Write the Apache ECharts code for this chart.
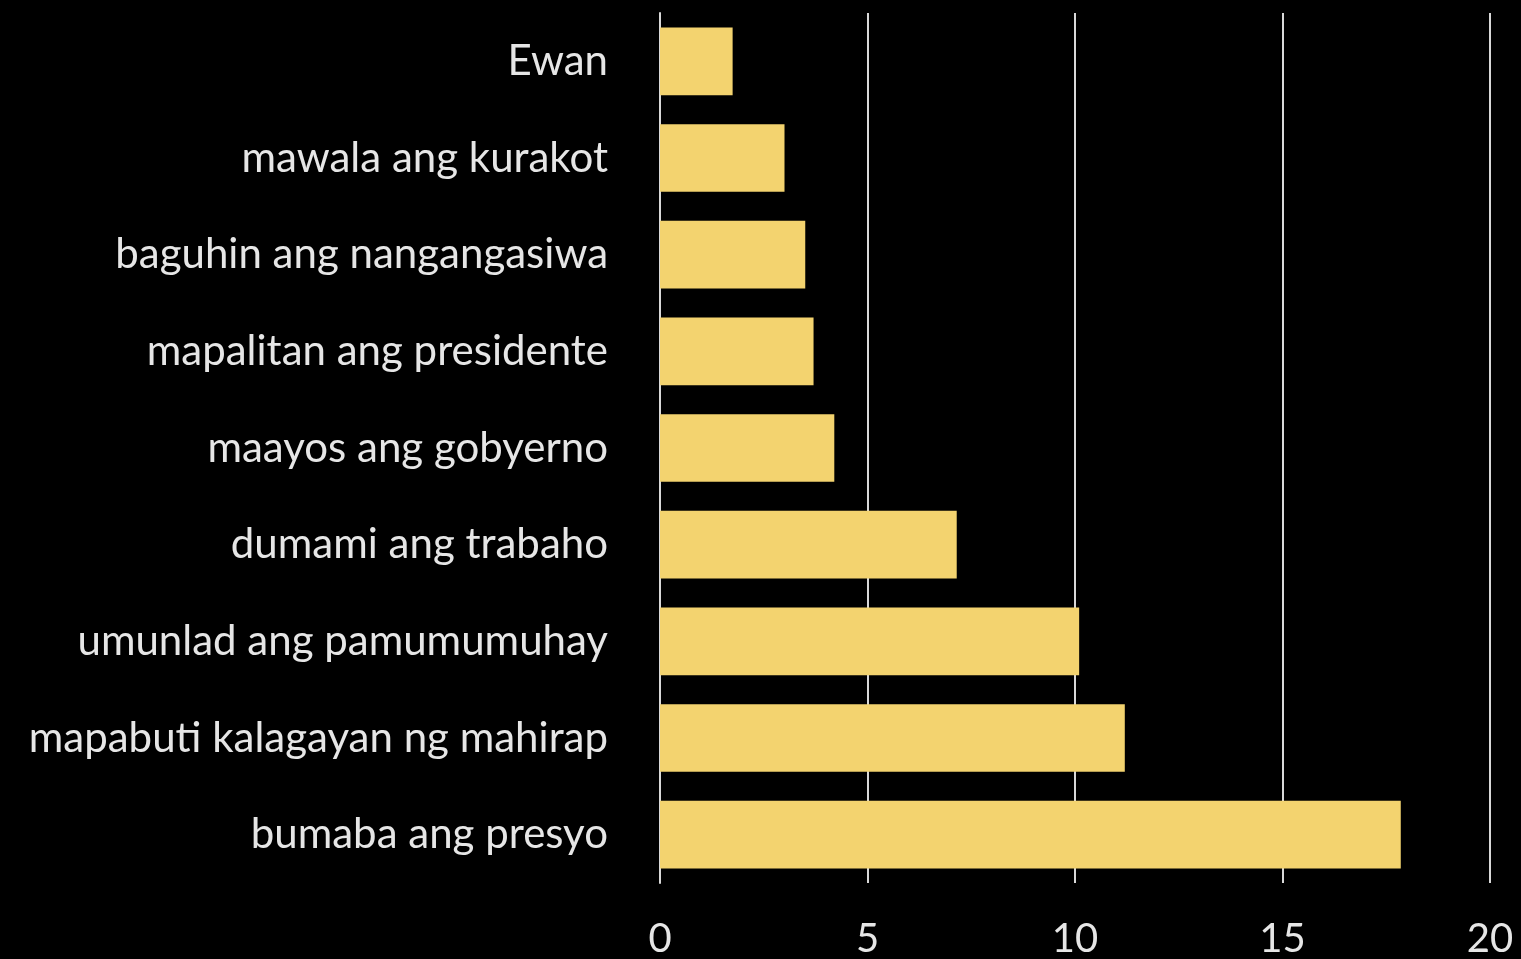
<!DOCTYPE html>
<html>
<head>
<meta charset="utf-8">
<script src="https://cdn.jsdelivr.net/npm/echarts@6/dist/echarts.min.js"></script>
<style>
  html, body { margin: 0; padding: 0; background: #000; }
  #chart { width: 1521px; height: 959px; }
</style>
</head>
<body>
<div id="chart"></div>
<script>
  const categories = [
    "bumaba ang presyo",
    "mapabuti kalagayan ng mahirap",
    "umunlad ang pamumumuhay",
    "dumami ang trabaho",
    "maayos ang gobyerno",
    "mapalitan ang presidente",
    "baguhin ang nangangasiwa",
    "mawala ang kurakot",
    "Ewan",
  ];
  const values = [17.85, 11.2, 10.1, 7.15, 4.2, 3.7, 3.5, 3.0, 1.75];
  const xTicks = { min: 0, max: 20, interval: 5 };

  const textColor = "#e6e6e6";
  const barColor = "#f3d36f";
  const fontFamily = "Lato, 'Open Sans', sans-serif";

  const chart = echarts.init(document.getElementById("chart"));
  chart.setOption({
    backgroundColor: "#000",
    animation: false,
    grid: {
      left: 660,
      right: 31,
      top: 13,
      bottom: 72,
      containLabel: false,
    },
    xAxis: {
      type: "value",
      min: xTicks.min,
      max: xTicks.max,
      interval: xTicks.interval,
      axisLine: { show: false },
      axisTick: { show: false },
      splitLine: {
        show: true,
        lineStyle: { color: "#d8d8d8", width: 2 },
      },
      axisLabel: {
        color: textColor,
        fontFamily,
        fontSize: 40,
        margin: 36,
      },
    },
    yAxis: {
      type: "category",
      data: categories,
      axisLine: { show: true, lineStyle: { color: "#d8d8d8", width: 2 } },
      axisTick: { show: false },
      axisLabel: {
        color: textColor,
        fontFamily,
        fontSize: 42,
        margin: 52,
        padding: [6, 0, 0, 0],
      },
    },
    series: [
      {
        type: "bar",
        data: values,
        barWidth: "70%",
        itemStyle: { color: barColor },
      },
    ],
  });
</script>
</body>
</html>
